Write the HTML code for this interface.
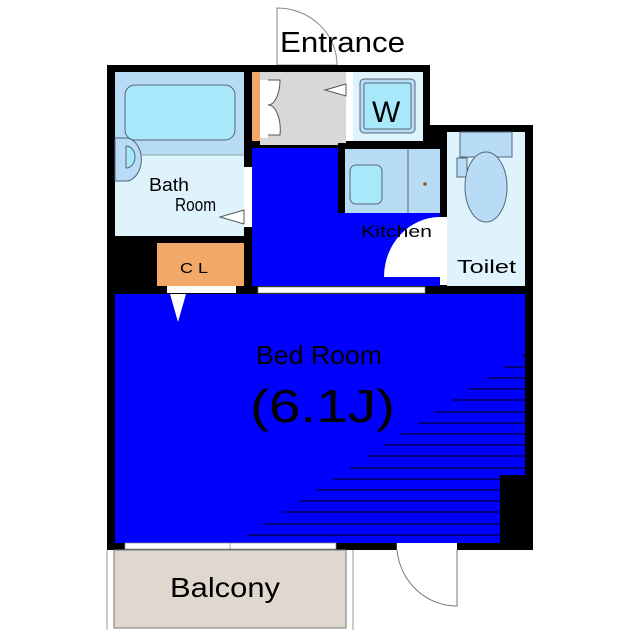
<!DOCTYPE html>
<html><head><meta charset="utf-8"><style>
html,body{margin:0;padding:0;background:#fff}
svg{display:block}
text{font-family:"Liberation Sans","DejaVu Sans",sans-serif;fill:#000}
</style></head><body>
<svg width="640" height="640" viewBox="0 0 640 640" xmlns="http://www.w3.org/2000/svg">
<path d="M277 65 L277 8 A60 57 0 0 1 337 65 Z" fill="#fff" stroke="#888" stroke-width="1"/>
<text x="280" y="52" font-size="29" textLength="125" lengthAdjust="spacingAndGlyphs">Entrance</text>
<path d="M107 65 H430 V125 H533 V550 H107 Z" fill="#000"/>
<rect x="115" y="72" width="129" height="164" fill="#dff3fd"/>
<rect x="115" y="72" width="129" height="83" fill="#b8dcf6"/>
<path d="M115 155 H244" stroke="#8aa" stroke-width="1"/>
<rect x="125" y="85" width="110" height="55" rx="10" fill="#a8e8fa" stroke="#567" stroke-width="1"/>
<path d="M115 138 H128 A17 22 0 0 1 128 181 H115 Z" fill="#b8dcf6" stroke="#567" stroke-width="1"/>
<path d="M126 146 A9 11 0 0 1 126 168 Z" fill="#a8e8fa" stroke="#567" stroke-width="1"/>
<text x="149" y="191" font-size="18" textLength="40" lengthAdjust="spacingAndGlyphs">Bath</text>
<text x="175" y="211" font-size="18" textLength="41" lengthAdjust="spacingAndGlyphs">Room</text>
<rect x="244" y="167" width="8" height="60" fill="#fff"/>
<path d="M244 210 L220 217 L244 224 Z" fill="#fff" stroke="#555" stroke-width="1"/>
<rect x="252" y="72" width="8" height="69" fill="#f2a868"/>
<rect x="260" y="72" width="86" height="73" fill="#d8d8d8"/>
<rect x="260" y="80" width="8" height="58" fill="#fff"/>
<path d="M268 80 H280 A12 25 0 0 1 268 105 A12 25 0 0 1 280 135 H268" fill="#fff" stroke="#555" stroke-width="1"/>
<rect x="346" y="72" width="7" height="69" fill="#fff"/>
<path d="M346 84 L325 90 L346 96 Z" fill="#fff" stroke="#555" stroke-width="1"/>
<rect x="353" y="72" width="70" height="69" fill="#dff3fd"/>
<rect x="360" y="79" width="55" height="54" rx="4" fill="#b8dcf6" stroke="#567" stroke-width="1"/>
<rect x="364" y="83" width="47" height="46" rx="2" fill="#a8e8fa" stroke="#567" stroke-width="1"/>
<text x="372" y="122" font-size="30">W</text>
<rect x="252" y="148" width="188" height="138" fill="#0000ff"/>
<rect x="338" y="143" width="102" height="70" fill="#000"/>
<rect x="345" y="149" width="95" height="64" fill="#b8dcf6"/>
<path d="M408 149 V213" stroke="#567" stroke-width="1"/>
<rect x="350" y="165" width="32" height="39" rx="6" fill="#a8e8fa" stroke="#567" stroke-width="1"/>
<circle cx="425" cy="184" r="1.8" fill="#a0501a"/>
<rect x="440" y="217" width="7" height="68" fill="#fff"/>
<path d="M440 217 A56 60 0 0 0 384 277 H440 Z" fill="#fff"/>
<text x="361" y="237" font-size="17" textLength="71" lengthAdjust="spacingAndGlyphs">Kitchen</text>
<rect x="447" y="132" width="78" height="154" fill="#dff3fd"/>
<rect x="460" y="132" width="52" height="25" fill="#b8dcf6" stroke="#567" stroke-width="1"/>
<rect x="457" y="158" width="10" height="19" fill="#b8dcf6" stroke="#567" stroke-width="1"/>
<ellipse cx="486" cy="187" rx="21" ry="35" fill="#b8dcf6" stroke="#567" stroke-width="1"/>
<text x="457" y="273" font-size="18" textLength="59" lengthAdjust="spacingAndGlyphs">Toilet</text>
<rect x="157" y="243" width="87" height="43" fill="#f2a868"/>
<text x="180" y="273" font-size="15" textLength="28" lengthAdjust="spacingAndGlyphs">C L</text>
<rect x="167" y="286" width="69" height="7" fill="#fff"/>
<rect x="258" y="287" width="167" height="6" fill="#fff" stroke="#888" stroke-width="0.7"/>
<rect x="115" y="294" width="410" height="249" fill="#0000ff"/>
<path d="M170 294 L178 322 L186 294 Z" fill="#fff"/>
<rect x="500" y="475" width="26" height="68" fill="#000"/>
<g stroke="#000" stroke-width="1">
<path d="M522 355H525M504 367H525M487 378H525M469 389H525M452 400H525M435 412H525M418 423H525M401 434H525M384 445H525M367 456H525M350 468H525M333 479H500M316 490H500M299 501H500M282 512H500M264 524H500M247 535H500"/>
</g>
<text x="256" y="364" font-size="26" textLength="126" lengthAdjust="spacingAndGlyphs">Bed Room</text>
<text x="250" y="422" font-size="46" textLength="145" lengthAdjust="spacingAndGlyphs">(6.1J)</text>
<rect x="125" y="543" width="211" height="6" fill="#fff" stroke="#888" stroke-width="0.7"/>
<path d="M230 543 V549" stroke="#888" stroke-width="0.7"/>
<path d="M397 543 V550 M397 550 A60 62 0 0 0 457 606 V550" fill="#fff" stroke="#777" stroke-width="1"/>
<rect x="397" y="543" width="60" height="7" fill="#fff"/>
<path d="M107 550 V630 M353 550 V630" stroke="#999" stroke-width="1"/>
<rect x="114" y="550" width="232" height="78" fill="#e0d8cf" stroke="#777" stroke-width="1"/>
<text x="170" y="597" font-size="28" textLength="110" lengthAdjust="spacingAndGlyphs">Balcony</text>
</svg>
</body></html>
